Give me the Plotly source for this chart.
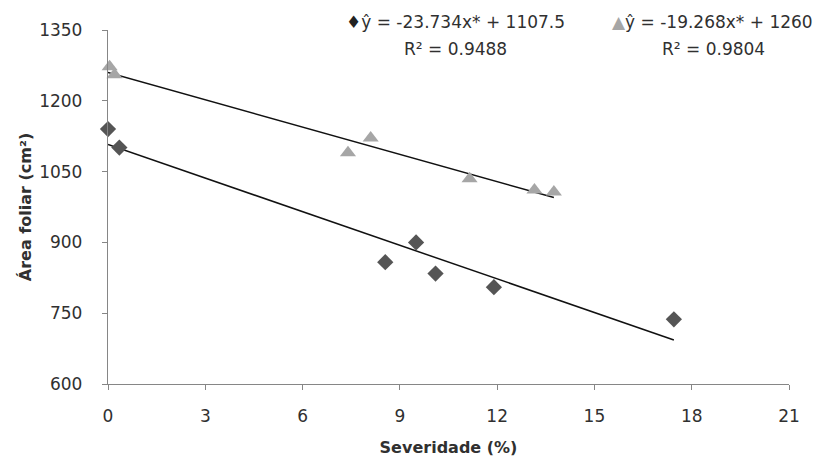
import plotly.graph_objects as go

# Data
sev_a = [0.0, 0.35, 8.55, 9.5, 10.1, 11.9, 17.45]
area_a = [1140, 1101, 858, 900, 834, 805, 737]
sev_b = [0.05, 0.2, 7.4, 8.1, 11.15, 13.15, 13.75]
area_b = [1272, 1255, 1090, 1121, 1035, 1011, 1007]

# Regression coefficients (slope, intercept) and R²
coef_a = (-23.734, 1107.5)
coef_b = (-19.268, 1260.0)
r2_a = "0.9488"
r2_b = "0.9804"

x_ticks = [0, 3, 6, 9, 12, 15, 18, 21]
y_ticks = [600, 750, 900, 1050, 1200, 1350]

FONT = "DejaVu Sans"
DIAMOND_COLOR = "#555555"
TRI_COLOR = "#a6a6a6"
AXIS_COLOR = "#868686"
TEXT_COLOR = "#303030"

fig = go.Figure()

# Trend lines
for xs, (m, b) in ((sev_a, coef_a), (sev_b, coef_b)):
    x0, x1 = 0.0, max(xs)
    fig.add_trace(go.Scatter(x=[x0, x1], y=[m * x0 + b, m * x1 + b], mode="lines",
                             line=dict(color="#111111", width=1.5), showlegend=False,
                             hoverinfo="skip"))

fig.add_trace(go.Scatter(x=sev_a, y=area_a, mode="markers",
                         marker=dict(symbol="diamond", size=12.5, color=DIAMOND_COLOR),
                         showlegend=False, cliponaxis=False))
fig.add_trace(go.Scatter(x=sev_b, y=area_b, mode="markers",
                         marker=dict(symbol="triangle-up", size=14, color=TRI_COLOR),
                         showlegend=False, cliponaxis=False))

axis_common = dict(showline=True, linecolor=AXIS_COLOR, linewidth=1.3, ticks="outside",
                   ticklen=5, tickcolor=AXIS_COLOR, tickwidth=1.3, showgrid=False,
                   zeroline=False, tickfont=dict(family=FONT, size=17, color=TEXT_COLOR),
                   mirror=False, automargin=False)

fig.update_xaxes(range=[0, 21], tickvals=x_ticks, ticktext=[str(v) for v in x_ticks],
                 ticklabelstandoff=11,
                 title=dict(text="<b>Severidade (%)</b>", font=dict(family=FONT, size=16, color=TEXT_COLOR),
                            standoff=17),
                 **axis_common)
fig.update_yaxes(range=[600, 1350], tickvals=y_ticks, ticktext=[str(v) for v in y_ticks],
                 ticklabelstandoff=16,
                 title=dict(text="<b>Área foliar (cm²)</b>", font=dict(family=FONT, size=16, color=TEXT_COLOR),
                            standoff=3),
                 **axis_common)

def eq_text(marker, color, m, b):
    return f"<span style='color:{color}'>{marker}</span>ŷ = {m:g}x* + {b:g}"

# The page body adds an 8px offset; figure is sized to compensate.
OFF = 8
L, R, T, B = 108 - OFF, 33, 30 - OFF, 75
W, H = 822 - OFF, 459 - OFF
pw, ph = W - L - R, H - T - B

def px(xp):
    return (xp - OFF - L) / pw

def py(yp):
    return (H - B - (yp - OFF)) / ph

ann_font = dict(family=FONT, size=17, color=TEXT_COLOR)
annotations = [
    dict(text=eq_text("♦", "#222222", *coef_a), x=px(455), y=py(22)),
    dict(text=f"R² = {r2_a}", x=px(455), y=py(49)),
    dict(text=eq_text("▲", TRI_COLOR, *coef_b), x=px(712), y=py(22)),
    dict(text=f"R² = {r2_b}", x=px(713), y=py(49)),
]
for a in annotations:
    a.update(xref="paper", yref="paper", showarrow=False, font=ann_font,
             xanchor="center", yanchor="middle")

fig.update_layout(width=W, height=H, autosize=False,
                  margin=dict(l=L, r=R, t=T, b=B, autoexpand=False),
                  plot_bgcolor="white", paper_bgcolor="white",
                  annotations=annotations, showlegend=False)

fig.write_html("out.html")
